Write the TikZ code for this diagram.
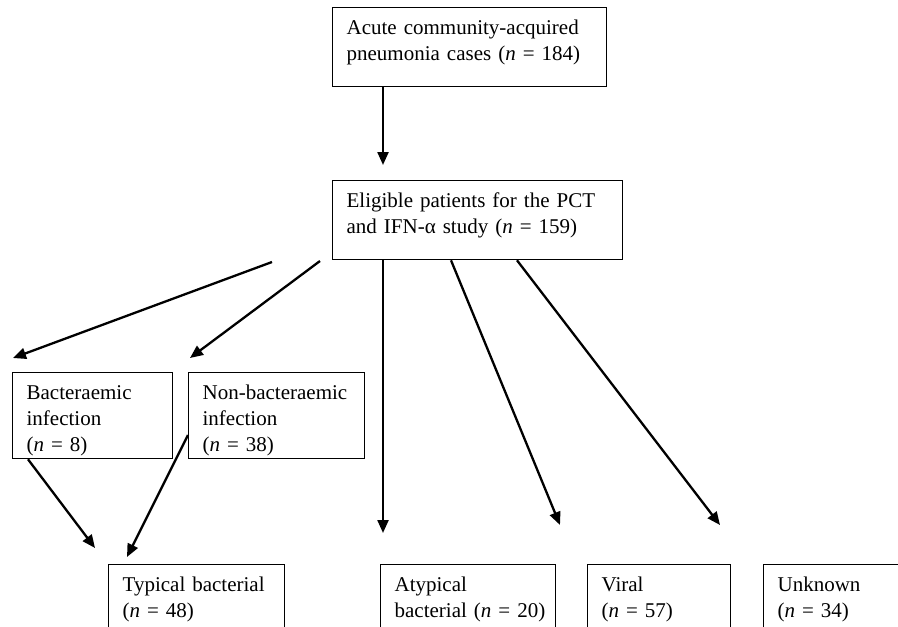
\documentclass[tikz,border=0pt]{standalone}
\usepackage{fontspec}
\setmainfont{Liberation Serif}
\usetikzlibrary{arrows.meta,calc}
\tikzset{
  box/.style={draw, line width=1.3pt, anchor=north west, align=left,
    inner xsep=14pt, inner ysep=0pt, text height=27pt,
    font=\fontsize{21pt}{26pt}\selectfont},
  arr/.style={line width=2.3pt, -{Triangle[length=13pt,width=11pt]}}
}
\begin{document}
\begin{tikzpicture}[x=1pt,y=-1pt]
  \useasboundingbox (0,0) rectangle (898,627);
  \clip (0,0) rectangle (898,627);
  % boxes
  \node[box, text width=246pt, text depth=52pt] (acute) at (332,7)
    {Acute community-acquired\\pneumonia cases (\textit{n} = 184)};
  \node[box, text width=262pt, text depth=52pt] (elig) at (332,180)
    {Eligible patients for the PCT\\and IFN-α study (\textit{n} = 159)};
  \node[box, text width=132pt, text depth=59pt] (bact) at (12,372)
    {Bacteraemic\\infection\\(\textit{n} = 8)};
  \node[box, text width=148pt, text depth=59pt] (nonbact) at (188,372)
    {Non-bacteraemic\\infection\\(\textit{n} = 38)};
  \node[box, text width=148pt, text depth=60pt] (typical) at (108,564)
    {Typical bacterial\\(\textit{n} = 48)};
  \node[box, text width=147pt, text depth=60pt] (atypical) at (380,564)
    {Atypical\\bacterial~(\textit{n}~=~20)};
  \node[box, text width=115pt, text depth=60pt] (viral) at (587,564)
    {Viral\\(\textit{n} = 57)};
  \node[box, text width=132pt, text depth=60pt] (unknown) at (763,564)
    {Unknown\\(\textit{n} = 34)};
  % free arrow ends
  \coordinate (t0) at (383,165);
  \coordinate (s1) at (272,262);
  \coordinate (t1) at (13,358);
  \coordinate (s2) at (320,261);
  \coordinate (t2) at (190,358);
  \coordinate (t3) at (383,533);
  \coordinate (t4) at (560,525);
  \coordinate (t5) at (720,525);
  \coordinate (t6) at (95,548);
  \coordinate (t7) at (127,557);
  % arrows
  \draw[arr] ($(acute.south west)+(51,0)$) -- (t0);
  \draw[arr] (s1) -- (t1);
  \draw[arr] (s2) -- (t2);
  \draw[arr] ($(elig.south west)+(51,0)$) -- (t3);
  \draw[arr] ($(elig.south west)+(119,0)$) -- (t4);
  \draw[arr] ($(elig.south west)+(185,0)$) -- (t5);
  \draw[arr] ($(bact.south west)+(16,0)$) -- (t6);
  \draw[arr] ($(nonbact.north west)+(0,63)$) -- (t7);
\end{tikzpicture}
\end{document}
